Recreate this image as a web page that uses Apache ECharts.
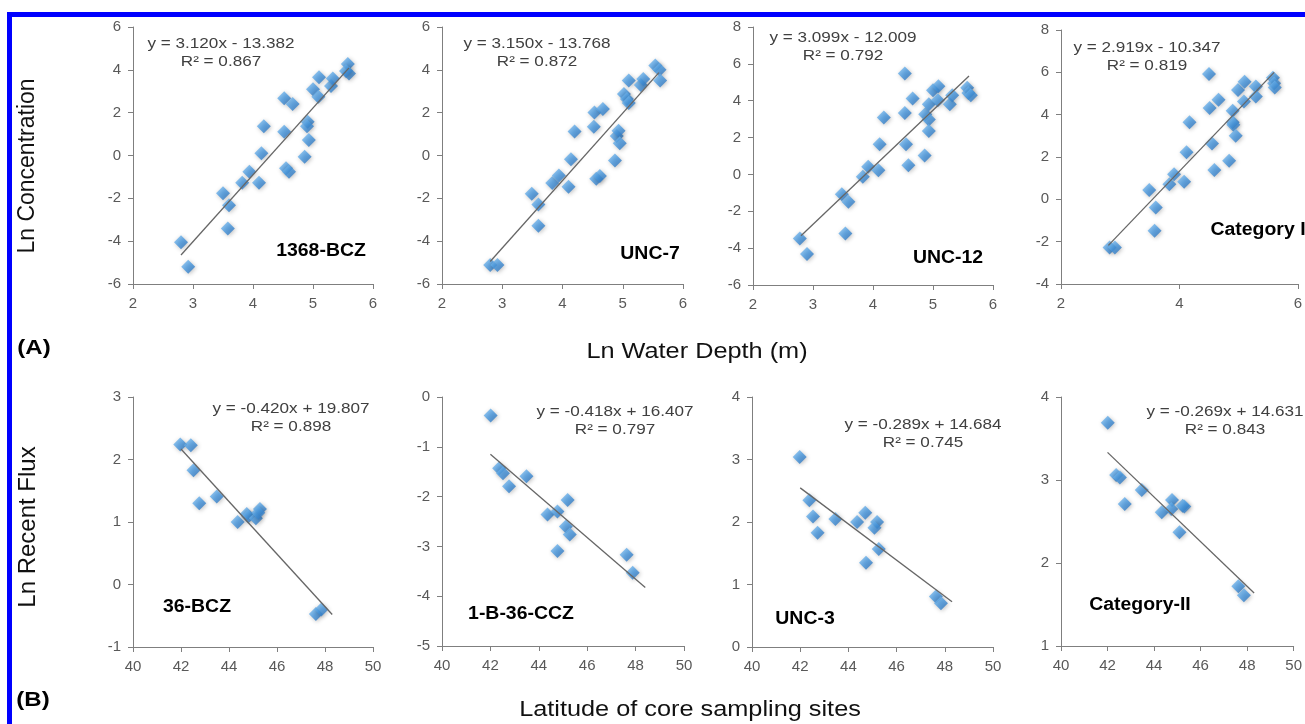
<!DOCTYPE html>
<html>
<head>
<meta charset="utf-8">
<title>Ln concentration / flux scatter panels</title>
<script src="https://cdn.jsdelivr.net/npm/echarts/dist/echarts.min.js"></script>
<style>
  html, body { margin: 0; padding: 0; background: #fff; }
  #chart { width: 1305px; height: 724px; }
</style>
</head>
<body>
<div id="chart"></div>
<script>
  // (A) Ln water depth vs Ln concentration, one array of [x, y] per core
  var bcz1368 = [[2.80,-4.05],[2.92,-5.20],[3.50,-1.76],[3.60,-2.32],[3.58,-3.41],[3.82,-1.27],[3.94,-0.76],
    [4.10,-1.27],[4.14,0.10],[4.18,1.37],[4.52,1.11],[4.52,2.67],[4.66,2.40],[4.55,-0.60],[4.60,-0.76],
    [4.86,-0.06],[4.91,1.58],[4.90,1.37],[4.93,0.72],[5.00,3.09],[5.09,2.74],[5.10,3.65],[5.30,3.24],
    [5.33,3.60],[5.58,4.27],[5.60,3.83],[5.55,3.95]];
  var unc7 = [[2.80,-5.11],[2.92,-5.11],[3.49,-1.79],[3.60,-2.29],[3.60,-3.28],[3.83,-1.28],[3.94,-0.93],
    [4.10,-1.46],[4.14,-0.18],[4.20,1.12],[4.52,1.34],[4.53,2.01],[4.67,2.17],[4.56,-1.09],[4.62,-0.96],
    [4.87,-0.23],[4.90,0.91],[4.93,1.15],[4.95,0.57],[5.02,2.87],[5.07,2.64],[5.10,3.50],[5.10,2.45],
    [5.30,3.29],[5.34,3.57],[5.54,4.20],[5.61,4.00],[5.62,3.50]];
  var unc12 = [[2.78,-3.47],[2.90,-4.32],[3.48,-1.07],[3.59,-1.48],[3.54,-3.20],[3.83,-0.13],[3.92,0.41],
    [4.09,0.23],[4.11,1.64],[4.18,3.09],[4.53,5.47],[4.53,3.34],[4.55,1.64],[4.59,0.50],[4.66,4.12],
    [4.86,1.03],[4.87,3.27],[4.93,3.81],[4.93,2.98],[4.93,2.36],[5.00,4.57],[5.09,4.78],[5.08,4.03],
    [5.28,3.81],[5.32,4.30],[5.57,4.71],[5.59,4.42],[5.63,4.30]];
  var categoryI = [[2.82,-2.28],[2.91,-2.28],[3.49,0.44],[3.60,-0.39],[3.58,-1.49],[3.83,0.71],[3.91,1.18],
    [4.08,0.83],[4.12,2.22],[4.17,3.64],[4.50,5.92],[4.51,4.31],[4.66,4.70],[4.55,2.64],[4.59,1.38],
    [4.84,1.82],[4.90,4.18],[4.90,3.64],[4.91,3.52],[4.95,3.00],[4.99,5.17],[5.10,5.56],[5.09,4.62],
    [5.29,5.33],[5.29,4.86],[5.58,5.75],[5.60,5.48],[5.61,5.28]];

  // (B) latitude vs Ln recent flux
  var bcz36 = [[41.97,2.24],[42.41,2.23],[42.52,1.83],[42.76,1.30],[43.49,1.41],[44.36,1.00],[44.74,1.13],
    [44.80,1.09],[45.12,1.06],[45.29,1.21],[45.22,1.15],[47.62,-0.47],[47.85,-0.40]];
  var ccz1b36 = [[42.01,-0.37],[42.36,-1.43],[42.52,-1.53],[42.77,-1.79],[43.49,-1.59],[44.36,-2.36],
    [44.77,-2.30],[44.77,-3.09],[45.19,-2.07],[45.12,-2.60],[45.28,-2.76],[47.63,-3.17],[47.88,-3.53]];
  var unc3 = [[41.98,3.04],[42.38,2.35],[42.53,2.09],[42.72,1.83],[43.46,2.05],[44.36,2.00],[44.70,2.15],
    [44.73,1.35],[45.19,2.00],[45.08,1.91],[45.26,1.57],[47.63,0.81],[47.84,0.70]];
  var categoryII = [[42.01,3.69],[42.37,3.06],[42.53,3.03],[42.74,2.71],[43.47,2.88],[44.33,2.61],
    [44.77,2.76],[44.74,2.65],[45.09,2.37],[45.23,2.69],[45.30,2.68],[47.62,1.72],[47.86,1.61]];

  // trend line end points, taken from the printed equations
  var fit1368 = [[2.8,-4.646],[5.6,4.090]];
  var fitUnc7 = [[2.8,-4.948],[5.6,3.872]];
  var fitUnc12 = [[2.8,-3.332],[5.6,5.345]];
  var fitCatI = [[2.8,-2.174],[5.6,5.999]];
  var fit36 = [[42,2.167],[48.3,-0.479]];
  var fit1b36 = [[42,-1.149],[48.4,-3.824]];
  var fitUnc3 = [[42,2.546],[48.3,0.725]];
  var fitCatII = [[42,3.333],[48.3,1.638]];

  var equations = [
    ['y = 3.120x - 13.382', 'R² = 0.867'],
    ['y = 3.150x - 13.768', 'R² = 0.872'],
    ['y = 3.099x - 12.009', 'R² = 0.792'],
    ['y = 2.919x - 10.347', 'R² = 0.819'],
    ['y = -0.420x + 19.807', 'R² = 0.898'],
    ['y = -0.418x + 16.407', 'R² = 0.797'],
    ['y = -0.289x + 14.684', 'R² = 0.745'],
    ['y = -0.269x + 14.631', 'R² = 0.843']
  ];
  var siteNames = ['1368-BCZ', 'UNC-7', 'UNC-12', 'Category I', '36-BCZ', '1-B-36-CCZ', 'UNC-3', 'Category-II'];

  // axis ranges: [xmin, xmax, xstep, ymin, ymax, ystep]
  var axisRanges = [
    [2, 6, 1, -6, 6, 2],
    [2, 6, 1, -6, 6, 2],
    [2, 6, 1, -6, 8, 2],
    [2, 6, 2, -4, 8, 2],
    [40, 50, 2, -1, 3, 1],
    [40, 50, 2, -5, 0, 1],
    [40, 50, 2, 0, 4, 1],
    [40, 50, 2, 1, 4, 1]
  ];

  var points = [bcz1368, unc7, unc12, categoryI, bcz36, ccz1b36, unc3, categoryII];
  var fits = [fit1368, fitUnc7, fitUnc12, fitCatI, fit36, fit1b36, fitUnc3, fitCatII];

  // layout of the 8 plot boxes and their annotations (pixels)
  var boxes = [
    {left: 133, top: 27, width: 240, height: 257, eqX: 221, eqY: 44, lbX: 321, lbY: 251},
    {left: 442, top: 27, width: 241, height: 257, eqX: 537, eqY: 44, lbX: 650, lbY: 254},
    {left: 753, top: 27, width: 240, height: 258, eqX: 843, eqY: 38, lbX: 948, lbY: 258},
    {left: 1061, top: 30, width: 241, height: 254, eqX: 1147, eqY: 48, lbX: 1258, lbY: 230},
    {left: 133, top: 397, width: 240, height: 250, eqX: 291, eqY: 409, lbX: 197, lbY: 607},
    {left: 442, top: 397, width: 242, height: 249, eqX: 615, eqY: 412, lbX: 521, lbY: 614},
    {left: 752, top: 397, width: 241, height: 250, eqX: 923, eqY: 425, lbX: 805, lbY: 619},
    {left: 1061, top: 397, width: 241, height: 249, eqX: 1225, eqY: 412, lbX: 1140, lbY: 605}
  ];

  var FONT = '"Liberation Sans", Arial, sans-serif';
  var diamondFill = {
    type: 'linear', x: 0, y: 0, x2: 1, y2: 1,
    colorStops: [{offset: 0, color: '#8fcaf6'}, {offset: 0.5, color: '#4596de'}, {offset: 1, color: '#2468b2'}]
  };

  var grids = [], xAxes = [], yAxes = [], series = [], graphics = [];

  function txt(x, y, text, size, opts) {
    opts = opts || {};
    return {
      type: 'text', x: x, y: y, rotation: opts.rotation || 0, scaleX: opts.scaleX || 1,
      z: 10,
      style: {
        text: text, fontSize: size, fontFamily: FONT, fontWeight: opts.bold ? 'bold' : 'normal',
        fill: opts.color || '#000',
        textAlign: 'center', align: 'center', textVerticalAlign: 'middle', verticalAlign: 'middle'
      }
    };
  }

  for (var i = 0; i < 8; i++) {
    var b = boxes[i], r = axisRanges[i];
    grids.push({left: b.left, top: b.top, width: b.width, height: b.height, containLabel: false});
    var axisCommon = {
      gridIndex: i,
      axisLine: {show: true, onZero: false, lineStyle: {color: '#7f7f7f', width: 1}},
      axisTick: {show: true, inside: false, length: 5, lineStyle: {color: '#7f7f7f'}},
      splitLine: {show: false},
      axisLabel: {fontSize: 15, color: '#595959', fontFamily: FONT, margin: 12, hideOverlap: false}
    };
    xAxes.push(Object.assign({type: 'value', min: r[0], max: r[1], interval: r[2]}, axisCommon));
    yAxes.push(Object.assign({type: 'value', min: r[3], max: r[4], interval: r[5]}, axisCommon));

    series.push({
      type: 'line', xAxisIndex: i, yAxisIndex: i, data: fits[i], symbol: 'none', silent: true,
      lineStyle: {color: '#666666', width: 1.3}, z: 3
    });
    series.push({
      type: 'scatter', xAxisIndex: i, yAxisIndex: i, data: points[i], symbol: 'diamond', symbolSize: 14,
      itemStyle: {color: diamondFill, shadowBlur: 4, shadowColor: 'rgba(0,0,0,0.3)', shadowOffsetX: 1, shadowOffsetY: 1},
      z: 2
    });

    graphics.push(txt(b.eqX, b.eqY, equations[i][0], 14.5, {color: '#404040', scaleX: 1.18}));
    graphics.push(txt(b.eqX, b.eqY + 18, equations[i][1], 14.5, {color: '#404040', scaleX: 1.18}));
    graphics.push(txt(b.lbX, b.lbY, siteNames[i], 18, {bold: true, scaleX: 1.08}));
  }

  // page-level titles and the blue frame
  graphics.push(txt(28, 166, 'Ln Concentration', 23, {rotation: Math.PI / 2, color: '#111'}));
  graphics.push(txt(28, 527, 'Ln Recent Flux', 24, {rotation: Math.PI / 2, color: '#111'}));
  graphics.push(txt(697, 352, 'Ln Water Depth (m)', 22, {color: '#111', scaleX: 1.15}));
  graphics.push(txt(690, 710, 'Latitude of core sampling sites', 22, {color: '#111', scaleX: 1.15}));
  graphics.push(txt(34, 348, '(A)', 20, {bold: true, scaleX: 1.2}));
  graphics.push(txt(33, 700, '(B)', 20, {bold: true, scaleX: 1.2}));
  graphics.push({
    type: 'rect', z: 20, silent: true,
    shape: {x: 9.5, y: 14.5, width: 1400, height: 800},
    style: {fill: null, stroke: '#0000ff', lineWidth: 5}
  });

  var chart = echarts.init(document.getElementById('chart'), null, {renderer: 'canvas'});
  chart.setOption({
    animation: false,
    backgroundColor: '#ffffff',
    grid: grids,
    xAxis: xAxes,
    yAxis: yAxes,
    series: series,
    graphic: graphics
  });
</script>
</body>
</html>
